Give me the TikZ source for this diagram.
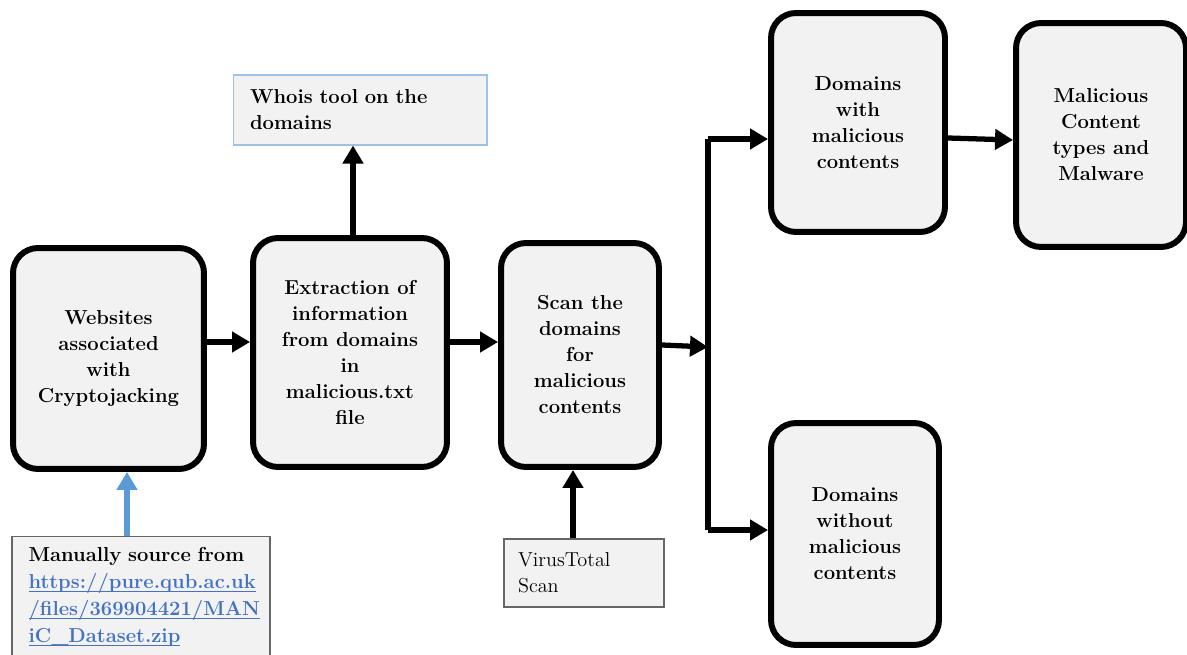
\documentclass[tikz,border=0pt]{standalone}
\usetikzlibrary{arrows.meta}
\definecolor{boxgray}{HTML}{F2F2F2}
\definecolor{linkblue}{HTML}{4472C4}
\definecolor{arrowblue}{HTML}{5B9BD5}
\definecolor{whoisline}{HTML}{9DC3E6}
\newcommand{\linktext}[1]{\textcolor{linkblue}{\underline{\smash{#1}}}}
\tikzset{
  stage/.style={draw, line width=3.4pt, rounded corners=0.5cm, fill=boxgray,
    align=center, font=\fontsize{11.5}{14.8}\selectfont\bfseries},
  note/.style={draw=gray!80!black, line width=0.6pt, fill=boxgray, align=left,
    inner sep=0pt, font=\fontsize{11.5}{14.8}\selectfont},
  flow/.style={line width=3pt, -{Triangle[length=0.36cm,width=0.4cm]}},
}
\begin{document}
\begin{tikzpicture}[x=0.02cm,y=-0.02cm]
\useasboundingbox (0,0) rectangle (1187,655);
\node[stage, minimum width=3.82cm, minimum height=4.42cm] (web) at (108.5,358.5){Websites\\associated\\with\\Cryptojacking};
\node[stage, minimum width=3.88cm, minimum height=4.58cm] (ext) at (350,352.5){Extraction of\\information\\from domains\\in\\malicious.txt\\file};
\node[stage, minimum width=3.16cm, minimum height=4.48cm] (scan) at (580,355){Scan the\\domains\\for\\malicious\\contents};
\node[stage, minimum width=3.48cm, minimum height=4.38cm] (dwith) at (858,122.5){Domains\\with\\malicious\\contents};
\node[stage, minimum width=3.4cm, minimum height=4.48cm] (mal) at (1101,135){Malicious\\Content\\types and\\Malware};
\node[stage, minimum width=3.36cm, minimum height=4.44cm] (dwo) at (855,534){Domains\\without\\malicious\\contents};
% side boxes
\node[note, draw=whoisline, minimum width=5.08cm, minimum height=1.4cm, text width=4.4cm, font=\fontsize{11.5}{14.8}\selectfont\bfseries] (whois) at (360,110){Whois tool on the\\domains};
\node[note, minimum width=3.2cm, minimum height=1.36cm, text width=2.64cm] (vt) at (584,573){VirusTotal\\Scan};
\node[note, minimum width=5.16cm, inner ysep=0.22cm, anchor=north, text width=4.5cm, font=\fontsize{11.5}{15.4}\selectfont\bfseries] (man) at (141,536){%
Manually source from\\
\linktext{https://pure.qub.ac.uk}\\
\linktext{/files/369904421/MAN}\\
\linktext{iC\_Dataset.zip}\\
\strut};
\coordinate (split) at (708,347);
\coordinate (btop) at (708,139);
\coordinate (bbot) at (708,530);
\draw[flow] (web.east |- 0,342) -- (ext.west |- 0,342);
\draw[flow] (ext.east |- 0,342) -- (scan.west |- 0,342);
\draw[flow] (ext.north -| 353,0) -- (whois.south -| 353,0);
\draw[flow] (scan.east |- 0,345) -- (split);
\draw[line width=3pt] (btop) -- (bbot);
\draw[flow] (btop) -- (dwith.west |- btop);
\draw[flow] (bbot) -- (dwo.west |- bbot);
\draw[flow] (dwith.east |- 0,138) -- (mal.west |- 0,140);
\draw[flow] (vt.north -| 573,0) -- (scan.south -| 573,0);
\draw[flow, arrowblue] (man.north -| 127,0) -- (web.south -| 127,0);
\end{tikzpicture}
\end{document}
